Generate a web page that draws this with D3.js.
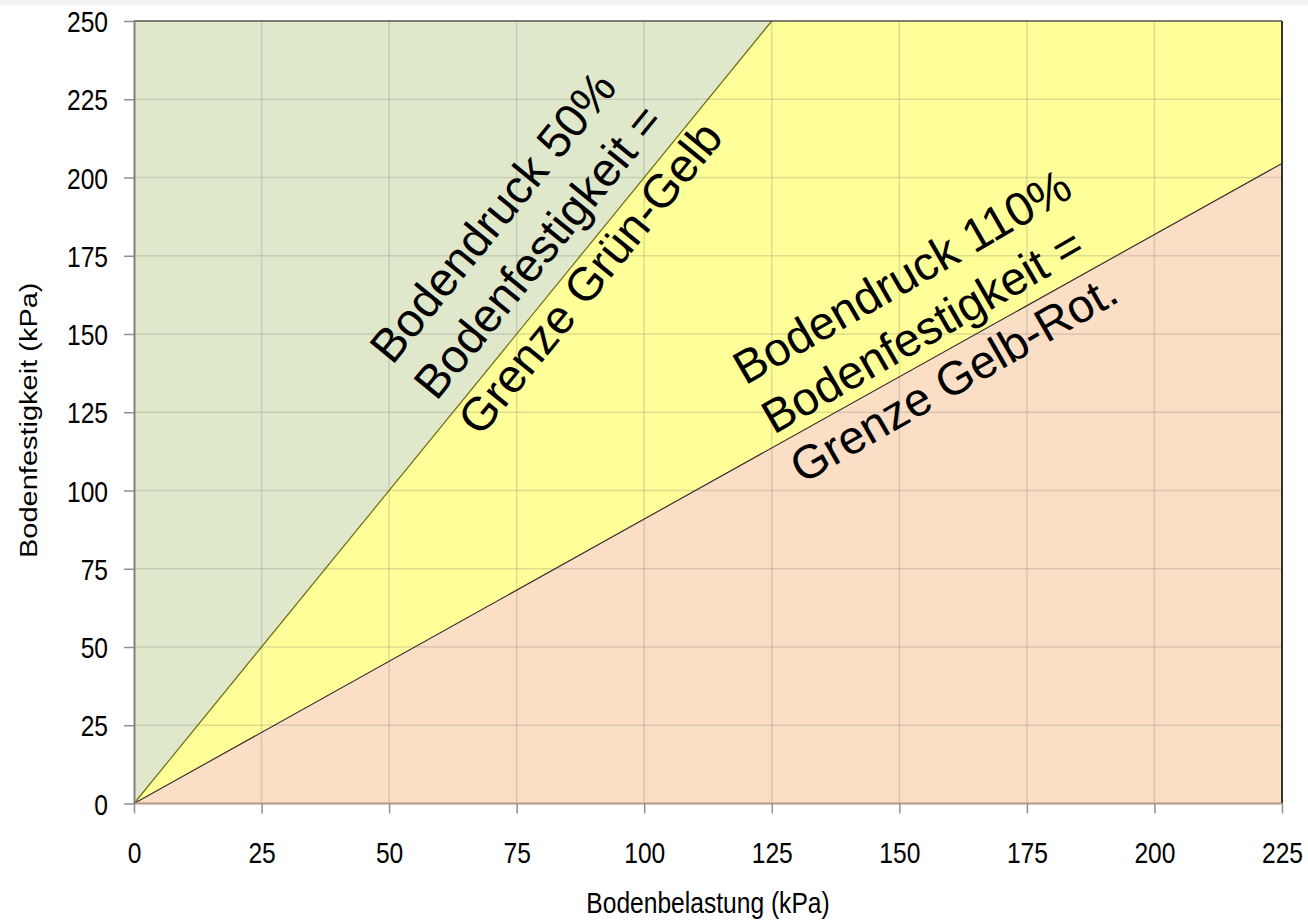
<!DOCTYPE html>
<html>
<head>
<meta charset="utf-8">
<script src="https://cdn.jsdelivr.net/npm/d3@7"></script>
<style>
  html, body { margin: 0; padding: 0; background: #ffffff; }
  svg { display: block; }
</style>
</head>
<body>
<svg id="chart" width="1308" height="920"></svg>
<script>
// ---- data ----
const xTicks = [0, 25, 50, 75, 100, 125, 150, 175, 200, 225];
const yTicks = [0, 25, 50, 75, 100, 125, 150, 175, 200, 225, 250];
const xDomain = [0, 225];
const yDomain = [0, 250];
// zone polygons in data units (Bodenbelastung, Bodenfestigkeit)
const zoneGreen  = [[0, 0], [0, 250], [125, 250]];
const zoneYellow = [[0, 0], [125, 250], [225, 250], [225, 204.5]];
const zoneRed    = [[0, 0], [225, 204.5], [225, 0]];
// boundary lines
const lineGreenYellow = [[0, 0], [125, 250]];
const lineYellowRed   = [[0, 0], [225, 204.5]];
const xTitle = "Bodenbelastung (kPa)";
const yTitle = "Bodenfestigkeit (kPa)";
const label1Lines = ["Bodendruck 50%", "Bodenfestigkeit =", "Grenze Grün-Gelb"];
const label2Lines = ["Bodendruck 110%", "Bodenfestigkeit =", "Grenze Gelb-Rot."];

// ---- drawing ----
const svg = d3.select("#chart");
const pLeft = 134, pRight = 1282, pTop = 21, pBottom = 803.5;
const x = d3.scaleLinear().domain(xDomain).range([pLeft, pRight]);
const y = d3.scaleLinear().domain(yDomain).range([pBottom, pTop]);
const font = "'Liberation Sans', Arial, sans-serif";
const squeeze = 0.82; // emulate narrow axis font

svg.append("rect").attr("x", 0).attr("y", 0).attr("width", 1308).attr("height", 5).attr("fill", "#f4f4f4");

const line = d3.line().x(d => x(d[0])).y(d => y(d[1]));
const poly = pts => line(pts) + "Z";

svg.append("path").attr("d", poly(zoneGreen)).attr("fill", "#e0e8cc");
svg.append("path").attr("d", poly(zoneYellow)).attr("fill", "#ffff99");
svg.append("path").attr("d", poly(zoneRed)).attr("fill", "#fadfc6");

// grid
const grid = svg.append("g").attr("stroke", "rgba(120,120,110,0.25)").attr("stroke-width", 1.5);
grid.selectAll("line.v").data(xTicks.slice(1, -1)).join("line").attr("class", "v")
  .attr("x1", d => x(d)).attr("x2", d => x(d)).attr("y1", pTop).attr("y2", pBottom);
grid.selectAll("line.h").data(yTicks.slice(1, -1)).join("line").attr("class", "h")
  .attr("y1", d => y(d)).attr("y2", d => y(d)).attr("x1", pLeft).attr("x2", pRight);

// boundary lines
svg.append("path").attr("d", line(lineGreenYellow)).attr("fill", "none").attr("stroke", "#6e6c10").attr("stroke-width", 1.2);
svg.append("path").attr("d", line(lineYellowRed)).attr("fill", "none").attr("stroke", "#3a302c").attr("stroke-width", 1.2);

// frame
svg.append("line").attr("x1", pLeft).attr("x2", pRight).attr("y1", pTop).attr("y2", pTop).attr("stroke", "#555").attr("stroke-width", 1.5);
svg.append("line").attr("x1", pRight).attr("x2", pRight).attr("y1", pTop).attr("y2", pBottom).attr("stroke", "#333").attr("stroke-width", 2);
svg.append("line").attr("x1", pLeft).attr("x2", pRight).attr("y1", pBottom).attr("y2", pBottom).attr("stroke", "#b89880").attr("stroke-width", 2);

// axes
const xAxis = svg.append("g").attr("transform", `translate(0,${pBottom})`)
  .call(d3.axisBottom(x).tickValues(xTicks).tickSize(10).tickPadding(28).tickSizeOuter(0));
const yAxis = svg.append("g").attr("transform", `translate(${pLeft},0)`)
  .call(d3.axisLeft(y).tickValues(yTicks).tickSize(10).tickPadding(16).tickSizeOuter(0));
[xAxis, yAxis].forEach(g => {
  g.select(".domain").attr("stroke", "#808080").attr("stroke-width", 2);
  g.selectAll(".tick line").attr("stroke", "#909090").attr("stroke-width", 1.5);
  g.selectAll(".tick text").attr("fill", "#000").style("font-family", font).style("font-size", "30px")
    .attr("transform", `scale(${squeeze},1)`);
});
xAxis.select(".domain").remove();
xAxis.selectAll(".tick text").attr("dy", "0.71em");
yAxis.selectAll(".tick text").attr("dy", "0.35em").attr("x", -26 / squeeze);

// titles
svg.append("text").attr("transform", `translate(${(pLeft + pRight) / 2},913) scale(${squeeze},1)`).attr("text-anchor", "middle")
  .style("font-family", font).style("font-size", "30px").text(xTitle);
svg.append("text").attr("transform", `translate(37,${(pTop + pBottom) / 2 + 8}) scale(${squeeze},1) rotate(-90)`).attr("text-anchor", "middle")
  .style("font-family", font).style("font-size", "29px").text(yTitle);

// annotations (anchored in data units, rotated parallel to boundary lines)
function angleOf(seg) {
  const dx = x(seg[1][0]) - x(seg[0][0]);
  const dy = y(seg[1][1]) - y(seg[0][1]);
  return Math.atan2(dy, dx) * 180 / Math.PI;
}
function annotate(lines, ax, ay, ang) {
  const t = svg.append("text")
    .attr("transform", `translate(${x(ax)},${y(ay)}) rotate(${ang})`)
    .style("font-family", font).style("font-size", "47px").attr("fill", "#000");
  t.selectAll("tspan").data(lines).join("tspan")
    .attr("x", 0).attr("y", (d, i) => i * 57).text(d => d);
}
annotate(label1Lines, 50.6, 139.8, angleOf(lineGreenYellow));
annotate(label2Lines, 119.8, 133.5, angleOf(lineYellowRed) - 0.8);
</script>
</body>
</html>
